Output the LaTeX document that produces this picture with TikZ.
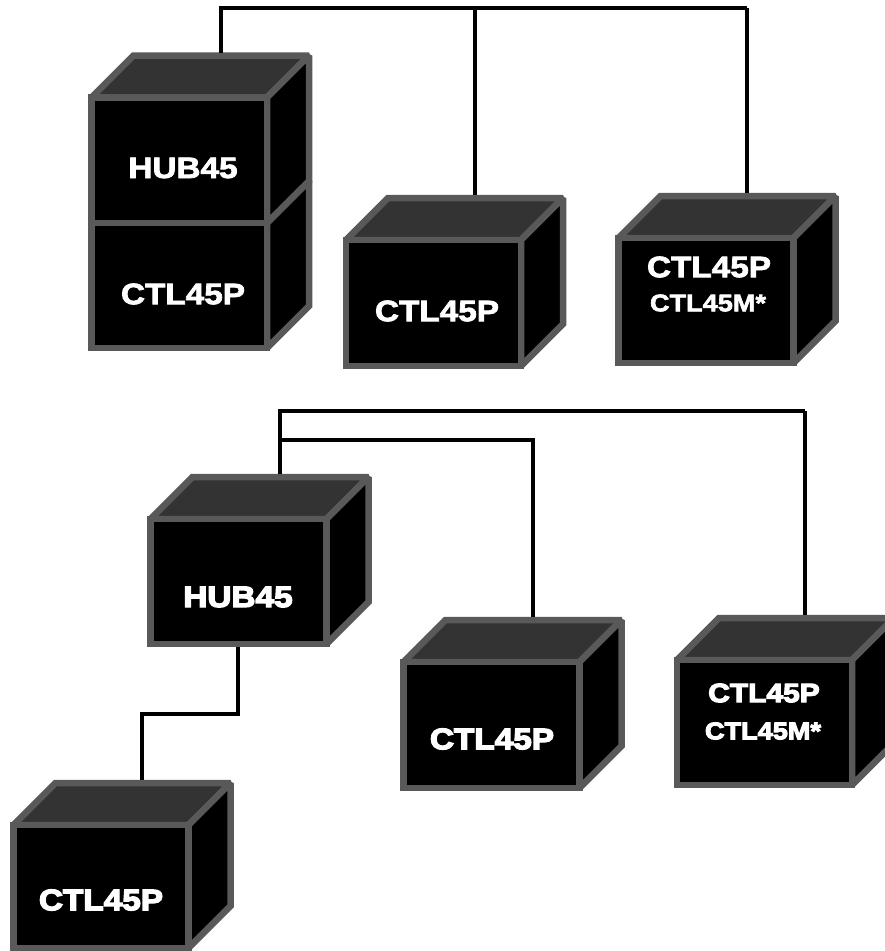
\documentclass[tikz,border=0pt]{standalone}
\usepackage{fontspec}
\newfontfamily\lblA{Liberation Sans Bold}[FakeStretch=1.13,FakeBold=2.5]
\newfontfamily\lblB{Liberation Sans Bold}[FakeStretch=1.13,FakeBold=4.5]
\tikzset{
  cubeline/.style={draw=cubegrey,line width=6.5pt,line join=miter,miter limit=2},
  frontface/.style={cubeline,fill=black,rectangle,inner sep=0pt,outer sep=0pt,anchor=north west},
  topface/.style={cubeline,fill=topgrey},
  sideface/.style={cubeline,fill=black},
  wire/.style={draw=black,line width=4.5pt,line join=miter},
  wireend/.style={wire,shorten >=3pt},
  lab/.style={text=white,inner sep=0pt,anchor=center,align=center},
}
\definecolor{cubegrey}{HTML}{595959}
\definecolor{topgrey}{HTML}{333333}
% name, left, top, right, bottom, depth
\newcommand\drawcube[6]{%
  \node[frontface,minimum width={#4-#2},minimum height={#5-#3}] (#1) at (#2,#3) {};
  \path[topface] (#1.north west) -- ++(#6,-#6) -- ++(#4-#2,0) -- (#1.north east) -- cycle;
  \path[sideface] (#1.north east) -- ++(#6,-#6) -- ++(0,#5-#3) -- (#1.south east) -- cycle;
  \node[frontface,minimum width={#4-#2},minimum height={#5-#3}] (#1) at (#2,#3) {};
}
\begin{document}
\begin{tikzpicture}[x=1pt,y=-1pt]
\clip (0,0) rectangle (885,951);
\fill[white] (0,0) rectangle (885,951);

% upper group
\drawcube{ctlA}{91.5}{223}{267}{348}{42}
\drawcube{hubA}{91.5}{97.5}{267}{223}{42}
\drawcube{ctlB}{346}{240}{521}{366}{42}
\drawcube{ctlC}{618.5}{238}{793.5}{363}{42}
% lower group
\drawcube{hubB}{150.5}{519}{326.5}{644}{42}
\drawcube{ctlD}{403.5}{662}{579.5}{788}{42}
\drawcube{ctlE}{677}{660}{852}{785}{42}
\drawcube{ctlF}{13.5}{825}{188.5}{948}{42}

% labels
\node[lab,font=\lblA\fontsize{29.5}{29.5}\selectfont] (tHubA) at (183,168) {HUB45};
\node[lab,font=\lblA\fontsize{29.5}{29.5}\selectfont] (tCtlA) at (183,294) {CTL45P};
\node[lab,font=\lblA\fontsize{29.5}{29.5}\selectfont] (tCtlB) at (437,311) {CTL45P};
\node[lab,font=\lblA\fontsize{29.5}{29.5}\selectfont] (tCtlC) at (709,267) {CTL45P};
\node[lab,font=\lblA\fontsize{24}{24}\selectfont] (tCtlM) at (708,303) {CTL45M*};
\node[lab,font=\lblB\fontsize{29.5}{29.5}\selectfont] (tHubB) at (238,597) {HUB45};
\node[lab,font=\lblB\fontsize{29.5}{29.5}\selectfont] (tCtlD) at (492,739) {CTL45P};
\node[lab,font=\lblB\fontsize{26.5}{26.5}\selectfont] (tCtlE) at (764,693) {CTL45P};
\node[lab,font=\lblB\fontsize{24}{24}\selectfont] (tCtlN) at (763,731) {CTL45M*};
\node[lab,font=\lblB\fontsize{29.5}{29.5}\selectfont] (tCtlF) at (101,900) {CTL45P};

% connector points
\coordinate (pA) at (221,55.5);
\coordinate (pB) at (475,198);
\coordinate (pC) at (747,196);
\coordinate (jA) at (221,8);
\coordinate (jB) at (475,8);
\coordinate (jC) at (747,8);
\coordinate (pD) at (280,477);
\coordinate (pE) at (533,620);
\coordinate (pF) at (805,618);
\coordinate (jD) at (280,411);
\coordinate (jE) at (280,440);
\coordinate (jF) at (805,411);
\coordinate (jG) at (533,440);
\coordinate (hubBout) at (238,644);
\coordinate (jH) at (238,714);
\coordinate (jI) at (142,714);
\coordinate (pG) at (142,783);

% connectors
\draw[wireend] (jC) -- (pC);
\draw[wireend] (jC) -- (jA) -- (pA);
\draw[wireend] (jB) -- (pB);
\draw[wireend] (jF) -- (pF);
\draw[wire] (jF) -- (jD) -- (jE);
\draw[wireend] (jE) -- (pD);
\draw[wireend] (jE) -- (jG) -- (pE);
\draw[wireend,shorten <=3pt] (hubBout) -- (jH) -- (jI) -- (pG);
\end{tikzpicture}
\end{document}
